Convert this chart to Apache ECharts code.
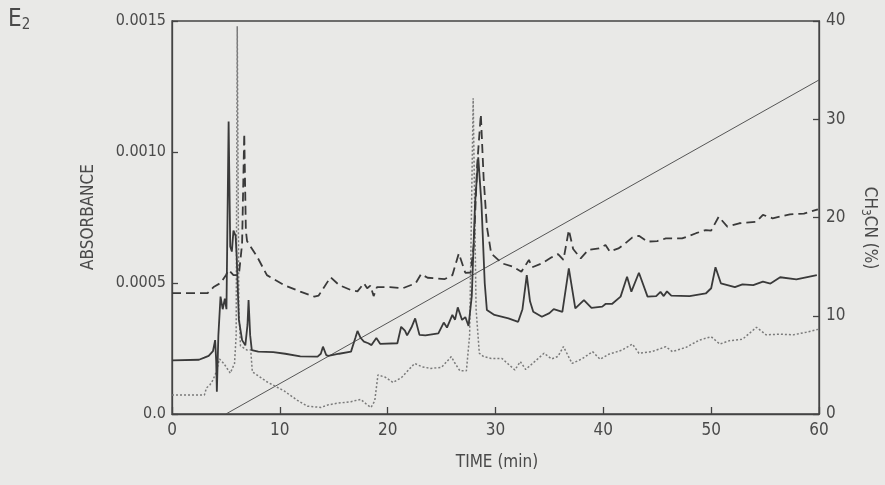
<!DOCTYPE html>
<html>
<head>
<meta charset="utf-8">
<script src="https://cdn.jsdelivr.net/npm/echarts@6/dist/echarts.min.js"></script>
<style>
html,body{margin:0;padding:0;background:#e9e9e7;}
#chart{width:885px;height:485px;}
</style>
</head>
<body>
<div id="chart"></div>
<script>
// ---- data (time in min, absorbance) ----
var solidTime = [0,2.5,3.0,3.4,3.8,4.0,4.1,4.16,4.3,4.5,4.7,4.8,4.9,5.05,5.25,5.4,5.55,5.7,5.9,6.0,6.2,6.5,6.8,7.0,7.1,7.25,7.4,8.0,9.4,10.5,11.9,13.5,13.8,14.0,14.3,14.5,15.5,16.6,17.0,17.2,17.5,17.8,18.2,18.5,18.95,19.3,20.9,21.25,21.6,21.8,22.2,22.55,22.95,23.5,24.7,25.2,25.5,26.0,26.25,26.5,26.9,27.2,27.5,27.8,28.1,28.4,28.7,29.0,29.2,29.9,31.2,32.1,32.5,32.9,33.2,33.5,34.3,35.0,35.4,36.2,36.8,37.4,38.2,38.9,39.9,40.2,40.8,41.6,42.2,42.6,43.3,44.1,44.9,45.3,45.6,45.9,46.3,48.0,49.5,50.0,50.4,50.9,52.2,52.9,53.9,54.8,55.5,56.4,57.9,59.8];
var solidAbs = [0.000205,0.000207,0.000215,0.000222,0.000240,0.000282,0.000200,0.000085,0.000300,0.000448,0.000400,0.000397,0.000440,0.000400,0.001116,0.000639,0.000620,0.000700,0.000680,0.000600,0.000360,0.000282,0.000262,0.000340,0.000435,0.000300,0.000244,0.000238,0.000236,0.000230,0.000220,0.000219,0.000230,0.000257,0.000225,0.000222,0.000230,0.000238,0.000290,0.000317,0.000290,0.000276,0.000270,0.000263,0.000290,0.000268,0.000270,0.000333,0.000318,0.000300,0.000330,0.000365,0.000302,0.000300,0.000308,0.000349,0.000330,0.000378,0.000360,0.000407,0.000359,0.000370,0.000336,0.000450,0.000800,0.000980,0.000800,0.000500,0.000397,0.000378,0.000365,0.000352,0.000400,0.000530,0.000430,0.000390,0.000371,0.000385,0.000400,0.000390,0.000556,0.000403,0.000435,0.000405,0.000410,0.000420,0.000420,0.000448,0.000524,0.000467,0.000539,0.000448,0.000450,0.000466,0.000450,0.000468,0.000452,0.000450,0.000460,0.000480,0.000560,0.000499,0.000484,0.000495,0.000492,0.000505,0.000498,0.000522,0.000514,0.000530];

var dashedTime = [0,3.3,3.9,4.5,5.0,5.25,5.7,6.2,6.5,6.7,6.85,6.96,7.9,8.8,10.4,11.9,13.2,13.6,14.7,15.5,16.6,17.2,17.8,18.1,18.4,18.7,19.0,20.2,21.4,22.6,23.1,23.7,25.3,26.0,26.6,27.2,27.7,28.0,28.3,28.64,28.9,29.2,29.6,30.6,31.6,32.4,33.1,33.4,34.3,35.2,35.8,36.3,36.8,37.2,37.9,38.6,39.6,40.2,40.6,41.4,42.0,42.7,43.3,44.1,45.0,45.8,47.3,48.6,49.5,50.0,50.7,51.5,52.6,54.2,54.8,55.7,57.3,58.6,59.9];
var dashedAbs = [0.000461,0.000461,0.000486,0.000500,0.000530,0.000550,0.000530,0.000530,0.000650,0.001070,0.000700,0.000660,0.000600,0.000530,0.000492,0.000467,0.000448,0.000452,0.000522,0.000492,0.000473,0.000468,0.000499,0.000480,0.000490,0.000450,0.000484,0.000484,0.000480,0.000499,0.000534,0.000520,0.000515,0.000530,0.000613,0.000539,0.000540,0.000650,0.000950,0.001144,0.000900,0.000715,0.000613,0.000575,0.000563,0.000543,0.000588,0.000560,0.000575,0.000598,0.000610,0.000588,0.000702,0.000630,0.000594,0.000626,0.000632,0.000645,0.000620,0.000632,0.000650,0.000674,0.000680,0.000658,0.000660,0.000670,0.000670,0.000690,0.000702,0.000700,0.000753,0.000715,0.000728,0.000734,0.000760,0.000747,0.000762,0.000765,0.000781];

var dottedTime = [0,3.0,3.2,3.5,3.8,4.1,4.4,4.8,5.4,5.8,5.95,6.05,6.2,6.35,6.96,7.3,7.45,8.8,10.4,11.6,12.55,13.8,14.5,15.3,16.6,17.5,18.1,18.45,18.8,19.1,19.8,20.5,21.3,22.5,23.2,24.0,25.0,25.9,26.3,26.7,27.3,27.6,27.93,28.2,28.5,28.9,29.6,30.6,31.2,31.8,32.3,32.8,33.8,34.5,35.2,35.8,36.3,37.1,38.0,39.0,39.7,40.5,41.75,42.7,43.3,44.5,45.8,46.4,47.7,48.9,50.0,50.8,51.7,52.9,54.2,55.1,56.4,57.6,58.8,59.9];
var dottedAbs = [0.0000725,0.0000725,0.000100,0.000110,0.000130,0.000160,0.000210,0.000193,0.000156,0.000193,0.000300,0.001480,0.000400,0.000260,0.000244,0.000245,0.000161,0.000123,0.000088,0.000053,0.000030,0.000025,0.000035,0.000041,0.000047,0.000056,0.000035,0.000025,0.000050,0.000149,0.000140,0.000120,0.000140,0.000193,0.000180,0.000174,0.000178,0.000219,0.000190,0.000165,0.000165,0.000300,0.001205,0.000400,0.000232,0.000219,0.000212,0.000212,0.000190,0.000168,0.000200,0.000170,0.000206,0.000232,0.000210,0.000220,0.000257,0.000193,0.000210,0.000238,0.000209,0.000228,0.000244,0.000267,0.000232,0.000238,0.000257,0.000238,0.000255,0.000282,0.000295,0.000267,0.000280,0.000285,0.000331,0.000302,0.000305,0.000302,0.000312,0.000323];

var gradientTime = [5, 60];
var gradientPct = [0, 34];

var xTickLabels = ['0','10','20','30','40','50','60'];
var leftTickLabels = ['0.0','0.0005','0.0010','0.0015'];
var rightTickLabels = ['0','10','20','30','40'];

function pairs(xs, ys){ return xs.map(function(x,i){ return [x, ys[i]]; }); }

var FONT = "'DejaVu Sans Condensed','Roboto',sans-serif";
var INK = '#3a3a3a';
var TXT = '#4a4a4a';

var chart = echarts.init(document.getElementById('chart'), null, {renderer:'canvas'});
chart.setOption({
  backgroundColor: '#e9e9e7',
  animation: false,
  grid: {left:172, right:66, top:21, bottom:71, show:true, borderColor:'#444', borderWidth:1.3, backgroundColor:'transparent'},
  xAxis: {
    type:'value', min:0, max:60, interval:10,
    axisLine:{show:true, lineStyle:{color:'#444', width:1.3}},
    axisTick:{show:true, inside:true, length:7, lineStyle:{color:'#444', width:1.3}},
    splitLine:{show:false},
    axisLabel:{margin:8, color:TXT, fontFamily:FONT, fontSize:17,
      formatter:function(v){ return xTickLabels[Math.round(v/10)]; }}
  },
  yAxis: [{
    type:'value', min:0, max:0.0015, interval:0.0005, position:'left',
    axisLine:{show:true, lineStyle:{color:'#444', width:1.3}},
    axisTick:{show:true, inside:true, length:6, lineStyle:{color:'#444', width:1.3}},
    splitLine:{show:false},
    axisLabel:{margin:6, color:TXT, fontFamily:FONT, fontSize:16,
      formatter:function(v){ return leftTickLabels[Math.round(v/0.0005)]; }}
  },{
    type:'value', min:0, max:40, interval:10, position:'right',
    axisLine:{show:true, lineStyle:{color:'#444', width:1.3}},
    axisTick:{show:true, inside:true, length:6, lineStyle:{color:'#444', width:1.3}},
    splitLine:{show:false},
    axisLabel:{margin:7, color:TXT, fontFamily:FONT, fontSize:17,
      formatter:function(v){ return rightTickLabels[Math.round(v/10)]; }}
  }],
  graphic: [
    {type:'text', left:8, top:8, style:{text:'{e|E}{s|2}', rich:{
      e:{fontFamily:FONT, fontSize:24, fill:TXT},
      s:{fontFamily:FONT, fontSize:15, fill:TXT, padding:[10,0,0,0]}}}},
    {type:'text', x:89, y:217, rotation:Math.PI/2,
      style:{text:'ABSORBANCE', fontFamily:FONT, fontSize:17, fill:TXT, align:'center', verticalAlign:'middle'}},
    {type:'text', x:869, y:228, rotation:-Math.PI/2,
      style:{text:'{a|CH}{s|3}{a|CN (%)}', align:'center', verticalAlign:'middle', rich:{
        a:{fontFamily:FONT, fontSize:17, fill:TXT},
        s:{fontFamily:FONT, fontSize:12, fill:TXT, padding:[8,0,0,0]}}}},
    {type:'text', x:497, y:463,
      style:{text:'TIME (min)', fontFamily:FONT, fontSize:17, fill:TXT, align:'center', verticalAlign:'middle'}}
  ],
  series: [
    {type:'line', name:'dotted', data:pairs(dottedTime, dottedAbs), yAxisIndex:0, symbol:'none',
      lineStyle:{color:'#7a7a7a', width:1.5, type:[2,2]}, z:2},
    {type:'line', name:'dashed', data:pairs(dashedTime, dashedAbs), yAxisIndex:0, symbol:'none',
      lineStyle:{color:INK, width:1.8, type:[9,5]}, z:3},
    {type:'line', name:'solid', data:pairs(solidTime, solidAbs), yAxisIndex:0, symbol:'none',
      lineStyle:{color:INK, width:1.8}, z:4},
    {type:'line', name:'gradient', data:pairs(gradientTime, gradientPct), yAxisIndex:1, symbol:'none',
      lineStyle:{color:'#555', width:1}, z:1}
  ]
});
</script>
</body>
</html>
